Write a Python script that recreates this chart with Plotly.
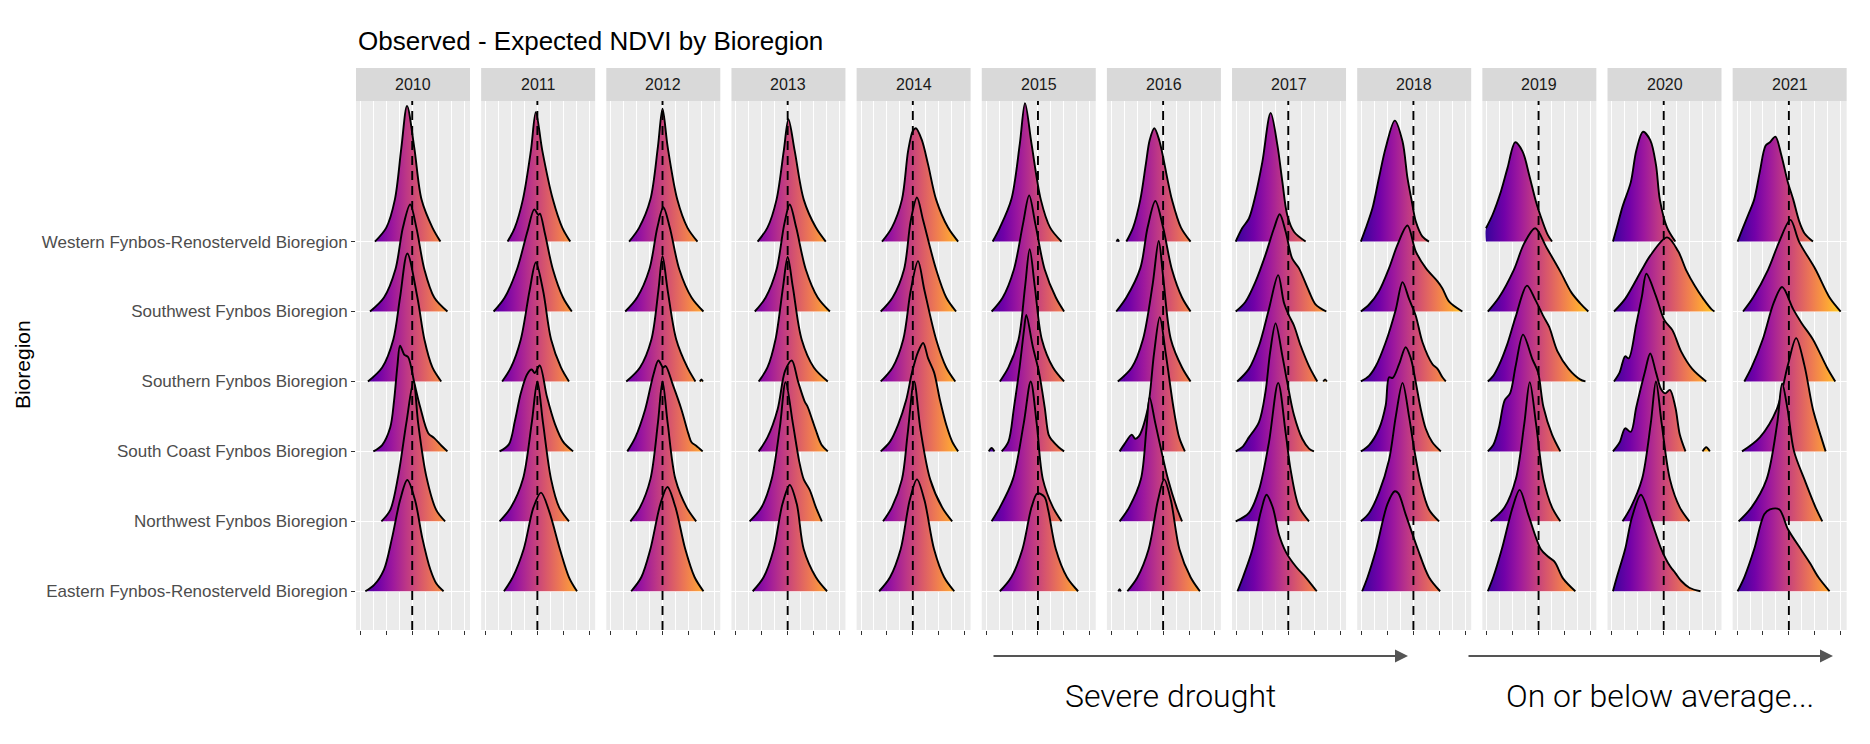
import plotly.graph_objects as go

# ridge profiles: (x = observed - expected NDVI, height in row units)
REGIONS = [
    "Western Fynbos-Renosterveld Bioregion",
    "Southwest Fynbos Bioregion",
    "Southern Fynbos Bioregion",
    "South Coast Fynbos Bioregion",
    "Northwest Fynbos Bioregion",
    "Eastern Fynbos-Renosterveld Bioregion",
]
YEARS = list(range(2010, 2022))
X_TICKS = [-0.2, -0.1, 0.0, 0.1, 0.2]
X_MINOR = [-0.15, -0.05, 0.05, 0.15]

R2010 = [
    [(-0.144, 0), (-0.10, 0.2), (-0.067, 0.6), (-0.042, 1.34), (-0.02, 1.94), (0.008, 1.34), (0.036, 0.6), (0.078, 0.2), (0.109, 0)],
    [(-0.163, 0), (-0.109, 0.2), (-0.065, 0.6), (-0.036, 1.2), (-0.008, 1.53), (0.016, 1.2), (0.047, 0.6), (0.085, 0.2), (0.136, 0)],
    [(-0.171, 0), (-0.116, 0.2), (-0.073, 0.6), (-0.047, 1.2), (-0.019, 1.83), (0.02, 1.2), (0.047, 0.6), (0.078, 0.2), (0.112, 0)],
    [(-0.150, 0), (-0.116, 0.09), (-0.085, 0.34), (-0.07, 0.73), (-0.057, 1.23), (-0.047, 1.51), (-0.03, 1.38), (-0.016, 1.35), (0.008, 0.98), (0.031, 0.63), (0.062, 0.26), (0.085, 0.19), (0.113, 0.08), (0.136, 0)],
    [(-0.119, 0), (-0.085, 0.16), (-0.054, 0.65), (-0.023, 1.4), (0.005, 2.0), (0.023, 1.4), (0.054, 0.65), (0.093, 0.16), (0.127, 0)],
    [(-0.181, 0), (-0.147, 0.09), (-0.109, 0.31), (-0.078, 0.76), (-0.047, 1.3), (-0.019, 1.59), (0.011, 1.3), (0.039, 0.76), (0.07, 0.31), (0.093, 0.11), (0.121, 0)],
]
R2011 = [
    [(-0.115, 0), (-0.087, 0.2), (-0.056, 0.6), (-0.025, 1.3), (-0.006, 1.85), (0.019, 1.3), (0.06, 0.6), (0.096, 0.2), (0.127, 0)],
    [(-0.169, 0), (-0.126, 0.2), (-0.079, 0.6), (-0.038, 1.15), (-0.012, 1.46), (0.004, 1.38), (0.01, 1.4), (0.03, 1.1), (0.06, 0.6), (0.099, 0.2), (0.133, 0)],
    [(-0.136, 0), (-0.102, 0.2), (-0.064, 0.6), (-0.03, 1.3), (-0.006, 1.70), (0.022, 1.3), (0.053, 0.6), (0.091, 0.2), (0.122, 0)],
    [(-0.146, 0), (-0.11, 0.1), (-0.087, 0.43), (-0.064, 0.83), (-0.04, 1.1), (-0.022, 1.17), (-0.01, 1.12), (0.009, 1.23), (0.037, 0.78), (0.068, 0.39), (0.099, 0.14), (0.138, 0)],
    [(-0.146, 0), (-0.102, 0.2), (-0.056, 0.6), (-0.022, 1.4), (0.0, 2.0), (0.022, 1.4), (0.053, 0.6), (0.084, 0.2), (0.122, 0)],
    [(-0.129, 0), (-0.095, 0.2), (-0.053, 0.6), (-0.015, 1.2), (0.014, 1.41), (0.045, 1.15), (0.087, 0.6), (0.122, 0.2), (0.153, 0)],
]
R2012 = [
    [(-0.129, 0), (-0.09, 0.2), (-0.047, 0.6), (-0.018, 1.35), (0.0, 1.90), (0.02, 1.35), (0.057, 0.6), (0.096, 0.2), (0.135, 0)],
    [(-0.144, 0), (-0.098, 0.2), (-0.051, 0.6), (-0.02, 1.2), (0.003, 1.49), (0.028, 1.2), (0.065, 0.6), (0.112, 0.2), (0.158, 0)],
    [(-0.14, 0), (-0.087, 0.2), (-0.043, 0.6), (-0.016, 1.3), (0.0, 1.79), (0.02, 1.3), (0.053, 0.6), (0.096, 0.2), (0.127, 0)],
    [(-0.136, 0), (-0.105, 0.2), (-0.067, 0.6), (-0.035, 1.1), (-0.016, 1.30), (0.002, 1.2), (0.012, 1.22), (0.04, 0.95), (0.073, 0.6), (0.1, 0.25), (0.112, 0.13), (0.13, 0.08), (0.155, 0)],
    [(-0.124, 0), (-0.087, 0.2), (-0.047, 0.6), (-0.018, 1.4), (0.0, 2.0), (0.02, 1.4), (0.05, 0.6), (0.093, 0.2), (0.13, 0)],
    [(-0.121, 0), (-0.082, 0.2), (-0.047, 0.6), (-0.008, 1.25), (0.019, 1.49), (0.05, 1.2), (0.088, 0.6), (0.124, 0.2), (0.158, 0)],
]
R2013 = [
    [(-0.116, 0), (-0.078, 0.2), (-0.043, 0.6), (-0.015, 1.3), (0.003, 1.75), (0.027, 1.3), (0.062, 0.6), (0.109, 0.2), (0.147, 0)],
    [(-0.127, 0), (-0.085, 0.2), (-0.043, 0.6), (-0.013, 1.25), (0.008, 1.53), (0.033, 1.2), (0.07, 0.6), (0.116, 0.2), (0.163, 0)],
    [(-0.112, 0), (-0.078, 0.2), (-0.047, 0.6), (-0.018, 1.35), (0.0, 1.78), (0.02, 1.35), (0.054, 0.6), (0.101, 0.2), (0.155, 0)],
    [(-0.112, 0), (-0.078, 0.2), (-0.039, 0.6), (-0.01, 1.15), (0.016, 1.30), (0.04, 1.0), (0.065, 0.72), (0.078, 0.63), (0.095, 0.45), (0.109, 0.3), (0.13, 0.1), (0.155, 0)],
    [(-0.147, 0), (-0.101, 0.2), (-0.062, 0.6), (-0.03, 1.35), (-0.008, 1.99), (0.02, 1.4), (0.045, 0.85), (0.062, 0.6), (0.085, 0.45), (0.109, 0.2), (0.132, 0)],
    [(-0.135, 0), (-0.093, 0.2), (-0.054, 0.6), (-0.02, 1.25), (0.008, 1.52), (0.035, 1.25), (0.062, 0.6), (0.109, 0.2), (0.152, 0)],
]
R2014 = [
    [(-0.119, 0), (-0.081, 0.2), (-0.042, 0.6), (-0.018, 1.3), (0.0, 1.58), (0.012, 1.62), (0.035, 1.45), (0.059, 1.1), (0.09, 0.6), (0.136, 0.2), (0.175, 0)],
    [(-0.124, 0), (-0.078, 0.2), (-0.034, 0.6), (-0.008, 1.3), (0.016, 1.63), (0.04, 1.3), (0.09, 0.6), (0.129, 0.2), (0.167, 0)],
    [(-0.124, 0), (-0.078, 0.2), (-0.037, 0.6), (-0.008, 1.3), (0.02, 1.72), (0.045, 1.3), (0.09, 0.6), (0.129, 0.2), (0.164, 0)],
    [(-0.124, 0), (-0.088, 0.14), (-0.057, 0.38), (-0.026, 0.73), (-0.003, 1.13), (0.02, 1.42), (0.04, 1.55), (0.059, 1.33), (0.082, 1.13), (0.105, 0.73), (0.129, 0.38), (0.152, 0.14), (0.175, 0)],
    [(-0.115, 0), (-0.081, 0.2), (-0.042, 0.6), (-0.02, 1.25), (0.005, 2.0), (0.03, 1.3), (0.067, 0.6), (0.113, 0.2), (0.152, 0)],
    [(-0.13, 0), (-0.088, 0.2), (-0.047, 0.6), (-0.012, 1.3), (0.016, 1.60), (0.045, 1.3), (0.082, 0.6), (0.121, 0.2), (0.16, 0)],
]
R2015 = [
    [(-0.175, 0), (-0.147, 0.2), (-0.103, 0.6), (-0.07, 1.4), (-0.05, 1.98), (-0.025, 1.4), (0.011, 0.6), (0.047, 0.2), (0.091, 0)],
    [(-0.179, 0), (-0.136, 0.2), (-0.093, 0.6), (-0.058, 1.25), (-0.034, 1.66), (-0.01, 1.25), (0.026, 0.6), (0.069, 0.2), (0.101, 0)],
    [(-0.147, 0), (-0.114, 0.2), (-0.075, 0.6), (-0.05, 1.35), (-0.032, 1.89), (-0.012, 1.35), (0.015, 0.6), (0.058, 0.2), (0.101, 0)],
    [(-0.14, 0), (-0.114, 0.14), (-0.093, 0.62), (-0.071, 1.2), (-0.054, 1.73), (-0.045, 1.95), (-0.02, 1.5), (0.004, 1.13), (0.026, 0.63), (0.041, 0.24), (0.054, 0.16), (0.08, 0.06), (0.101, 0)],
    [(-0.179, 0), (-0.147, 0.2), (-0.097, 0.6), (-0.055, 1.4), (-0.028, 2.0), (-0.005, 1.4), (0.019, 0.6), (0.058, 0.2), (0.091, 0)],
    [(-0.147, 0), (-0.103, 0.2), (-0.06, 0.6), (-0.025, 1.2), (-0.002, 1.40), (0.025, 1.35), (0.04, 1.15), (0.069, 0.6), (0.112, 0.2), (0.155, 0)],
]
R2016 = [
    [(-0.142, 0), (-0.116, 0.2), (-0.088, 0.6), (-0.067, 1.1), (-0.052, 1.45), (-0.034, 1.62), (-0.015, 1.45), (0.019, 0.85), (0.034, 0.6), (0.069, 0.2), (0.106, 0)],
    [(-0.181, 0), (-0.142, 0.2), (-0.088, 0.62), (-0.06, 1.2), (-0.03, 1.58), (0.0, 1.2), (0.034, 0.6), (0.073, 0.2), (0.106, 0)],
    [(-0.175, 0), (-0.121, 0.2), (-0.078, 0.6), (-0.04, 1.4), (-0.017, 2.01), (0.0, 1.5), (0.03, 0.6), (0.073, 0.2), (0.106, 0)],
    [(-0.168, 0), (-0.15, 0.1), (-0.121, 0.24), (-0.108, 0.18), (-0.095, 0.21), (-0.06, 0.6), (-0.035, 1.4), (-0.013, 1.92), (0.01, 1.4), (0.041, 0.6), (0.062, 0.2), (0.084, 0)],
    [(-0.168, 0), (-0.131, 0.2), (-0.086, 0.6), (-0.065, 1.3), (-0.052, 1.77), (-0.03, 1.4), (0.019, 0.6), (0.052, 0.2), (0.073, 0)],
    [(-0.138, 0), (-0.099, 0.2), (-0.056, 0.6), (-0.02, 1.3), (0.004, 1.60), (0.03, 1.3), (0.063, 0.6), (0.106, 0.2), (0.142, 0)],
]
R2017 = [
    [(-0.203, 0), (-0.178, 0.19), (-0.152, 0.33), (-0.126, 0.67), (-0.1, 1.14), (-0.068, 1.84), (-0.042, 1.38), (-0.023, 0.86), (-0.004, 0.38), (0.022, 0.14), (0.067, 0)],
    [(-0.203, 0), (-0.165, 0.14), (-0.126, 0.43), (-0.088, 0.81), (-0.055, 1.19), (-0.033, 1.39), (-0.01, 1.14), (0.015, 0.76), (0.041, 0.62), (0.08, 0.29), (0.106, 0.1), (0.147, 0)],
    [(-0.197, 0), (-0.152, 0.18), (-0.113, 0.51), (-0.075, 1.03), (-0.039, 1.52), (-0.017, 1.13), (0.003, 0.94), (0.022, 0.8), (0.048, 0.51), (0.08, 0.22), (0.112, 0)],
    [(-0.203, 0), (-0.178, 0.06), (-0.152, 0.2), (-0.113, 0.42), (-0.088, 0.85), (-0.07, 1.42), (-0.049, 1.83), (-0.023, 1.37), (-0.004, 0.99), (0.022, 0.52), (0.054, 0.18), (0.08, 0.04), (0.099, 0)],
    [(-0.203, 0), (-0.152, 0.12), (-0.113, 0.45), (-0.075, 1.12), (-0.039, 1.98), (-0.01, 1.26), (0.009, 0.74), (0.041, 0.21), (0.08, 0)],
    [(-0.196, 0), (-0.175, 0.2), (-0.138, 0.6), (-0.105, 1.15), (-0.084, 1.38), (-0.06, 1.2), (-0.035, 0.8), (-0.009, 0.56), (0.03, 0.35), (0.067, 0.2), (0.11, 0)],
]
R2018 = [
    [(-0.203, 0), (-0.184, 0.19), (-0.158, 0.48), (-0.133, 0.91), (-0.107, 1.34), (-0.072, 1.73), (-0.042, 1.43), (-0.023, 0.91), (-0.006, 0.57), (0.009, 0.29), (0.035, 0.07), (0.06, 0)],
    [(-0.203, 0), (-0.171, 0.1), (-0.133, 0.29), (-0.094, 0.62), (-0.062, 0.95), (-0.023, 1.23), (0.009, 0.86), (0.048, 0.62), (0.093, 0.43), (0.112, 0.33), (0.138, 0.14), (0.189, 0)],
    [(-0.203, 0), (-0.171, 0.08), (-0.145, 0.22), (-0.107, 0.56), (-0.068, 1.03), (-0.042, 1.42), (-0.017, 1.18), (0.009, 0.94), (0.035, 0.56), (0.073, 0.25), (0.093, 0.18), (0.112, 0.06), (0.125, 0)],
    [(-0.203, 0), (-0.171, 0.09), (-0.133, 0.32), (-0.107, 0.66), (-0.094, 1.06), (-0.08, 1.05), (-0.055, 1.25), (-0.03, 1.49), (-0.01, 1.33), (0.009, 0.99), (0.028, 0.61), (0.048, 0.32), (0.073, 0.13), (0.106, 0)],
    [(-0.203, 0), (-0.171, 0.12), (-0.133, 0.41), (-0.094, 0.88), (-0.068, 1.5), (-0.042, 1.98), (-0.017, 1.5), (0.003, 1.03), (0.028, 0.55), (0.06, 0.17), (0.099, 0)],
    [(-0.198, 0), (-0.177, 0.2), (-0.144, 0.6), (-0.1, 1.25), (-0.072, 1.43), (-0.058, 1.4), (-0.03, 1.1), (0.017, 0.6), (0.06, 0.2), (0.103, 0)],
]
R2019 = [
    [(-0.203, 0.19), (-0.178, 0.38), (-0.145, 0.72), (-0.12, 1.05), (-0.09, 1.42), (-0.062, 1.29), (-0.036, 0.95), (-0.01, 0.57), (0.015, 0.29), (0.035, 0.1), (0.052, 0)],
    [(-0.196, 0), (-0.153, 0.2), (-0.095, 0.6), (-0.056, 0.97), (-0.013, 1.19), (0.03, 0.92), (0.084, 0.57), (0.127, 0.27), (0.16, 0.12), (0.192, 0)],
    [(-0.196, 0), (-0.175, 0.08), (-0.153, 0.23), (-0.121, 0.53), (-0.088, 0.93), (-0.045, 1.37), (-0.013, 1.17), (0.019, 0.93), (0.041, 0.78), (0.073, 0.43), (0.116, 0.18), (0.16, 0.03), (0.181, 0)],
    [(-0.196, 0), (-0.175, 0.09), (-0.153, 0.34), (-0.131, 0.73), (-0.11, 0.83), (-0.088, 1.23), (-0.06, 1.67), (-0.024, 1.32), (-0.002, 1.13), (0.019, 0.63), (0.052, 0.24), (0.084, 0)],
    [(-0.185, 0), (-0.131, 0.2), (-0.088, 0.6), (-0.055, 1.4), (-0.034, 1.99), (-0.01, 1.4), (0.019, 0.6), (0.052, 0.2), (0.084, 0)],
    [(-0.196, 0), (-0.175, 0.2), (-0.142, 0.6), (-0.1, 1.2), (-0.073, 1.45), (-0.04, 1.1), (0.009, 0.6), (0.035, 0.5), (0.062, 0.42), (0.095, 0.18), (0.142, 0)],
]
R2020 = [
    [(-0.196, 0), (-0.181, 0.2), (-0.159, 0.5), (-0.127, 0.85), (-0.106, 1.3), (-0.08, 1.57), (-0.052, 1.45), (-0.03, 1.1), (-0.015, 0.6), (0.013, 0.2), (0.045, 0)],
    [(-0.192, 0), (-0.149, 0.18), (-0.084, 0.6), (-0.052, 0.8), (0.013, 1.06), (0.056, 0.86), (0.088, 0.58), (0.121, 0.36), (0.153, 0.18), (0.185, 0.03), (0.196, 0)],
    [(-0.192, 0), (-0.17, 0.13), (-0.149, 0.36), (-0.135, 0.33), (-0.106, 0.82), (-0.084, 1.22), (-0.067, 1.54), (-0.03, 1.22), (0.002, 0.88), (0.034, 0.73), (0.067, 0.43), (0.11, 0.18), (0.164, 0)],
    [(-0.196, 0), (-0.17, 0.13), (-0.149, 0.33), (-0.127, 0.28), (-0.106, 0.63), (-0.073, 1.13), (-0.052, 1.40), (-0.03, 1.13), (-0.009, 0.88), (0.006, 0.83), (0.024, 0.88), (0.045, 0.63), (0.062, 0.24), (0.084, 0)],
    [(-0.159, 0), (-0.127, 0.2), (-0.084, 0.6), (-0.05, 1.4), (-0.03, 2.0), (-0.008, 1.4), (0.024, 0.6), (0.062, 0.2), (0.099, 0)],
    [(-0.196, 0), (-0.181, 0.2), (-0.149, 0.6), (-0.123, 1.05), (-0.088, 1.38), (-0.052, 1.05), (-0.009, 0.6), (0.024, 0.36), (0.045, 0.26), (0.067, 0.15), (0.099, 0.05), (0.142, 0)],
]
R2021 = [
    [(-0.198, 0), (-0.177, 0.2), (-0.155, 0.4), (-0.134, 0.6), (-0.112, 1.0), (-0.09, 1.37), (-0.073, 1.42), (-0.052, 1.5), (-0.03, 1.25), (-0.004, 0.85), (0.017, 0.6), (0.039, 0.3), (0.06, 0.12), (0.093, 0)],
    [(-0.177, 0), (-0.138, 0.2), (-0.08, 0.6), (-0.037, 1.0), (0.006, 1.31), (0.039, 1.0), (0.103, 0.6), (0.157, 0.2), (0.2, 0)],
    [(-0.172, 0), (-0.144, 0.2), (-0.101, 0.6), (-0.058, 1.13), (-0.026, 1.35), (0.017, 1.03), (0.05, 0.83), (0.093, 0.6), (0.147, 0.2), (0.179, 0)],
    [(-0.181, 0), (-0.112, 0.2), (-0.047, 0.6), (-0.004, 1.23), (0.028, 1.62), (0.06, 1.23), (0.093, 0.6), (0.125, 0.2), (0.142, 0)],
    [(-0.194, 0), (-0.144, 0.2), (-0.086, 0.6), (-0.045, 1.4), (-0.026, 1.97), (-0.005, 1.6), (0.02, 1.0), (0.06, 0.6), (0.103, 0.2), (0.129, 0)],
    [(-0.198, 0), (-0.172, 0.2), (-0.134, 0.6), (-0.095, 1.1), (-0.073, 1.17), (-0.037, 1.17), (-0.004, 0.89), (0.05, 0.58), (0.082, 0.4), (0.114, 0.2), (0.157, 0)],
]

# small detached bits of density (year, region index, points)
BLOBS = [
    (2012, 2, [(0.144, 0), (0.15, 0.03), (0.156, 0)]),
    (2015, 3, [(-0.19, 0), (-0.179, 0.05), (-0.168, 0)]),
    (2016, 0, [(-0.18, 0), (-0.175, 0.03), (-0.17, 0)]),
    (2016, 5, [(-0.173, 0), (-0.168, 0.03), (-0.163, 0)]),
    (2017, 2, [(0.135, 0), (0.142, 0.03), (0.149, 0)]),
    (2020, 3, [(0.15, 0), (0.164, 0.06), (0.178, 0)]),
]

RIDGES = {
    2010: R2010, 2011: R2011, 2012: R2012, 2013: R2013, 2014: R2014, 2015: R2015,
    2016: R2016, 2017: R2017, 2018: R2018, 2019: R2019, 2020: R2020, 2021: R2021,
}

# layout in pixels (figure is 1854x728 inside the page margin)
W, H = 1854, 728
PANEL_L0, PANEL_W, PANEL_STEP = 348, 114, 125.15
PANEL_TOP, PANEL_BOT = 93, 622
STRIP_TOP = 60
X_RANGE = [-0.217, 0.223]
Y_RANGE = [0.446, 8.01]
FONT = "Liberation Sans, Arial, sans-serif"


def add_ridge(fig, pts, base, ax_id):
    xs = [p[0] for p in pts]
    ys = [base + p[1] for p in pts]
    fx, fy = list(xs), list(ys)
    if pts[0][1] > 0:
        fx.insert(0, xs[0])
        fy.insert(0, base)
    if pts[-1][1] > 0:
        fx.append(xs[-1])
        fy.append(base)
    fig.add_trace(go.Scatter(
        x=fx, y=fy, xaxis="x" + ax_id, yaxis="y" + ax_id,
        mode="lines", fill="toself",
        line=dict(width=0, shape="spline", smoothing=0.9),
        fillgradient=dict(type="horizontal", colorscale="Plasma", start=-0.24, stop=0.25),
        hoverinfo="skip", showlegend=False,
    ))
    fig.add_trace(go.Scatter(
        x=xs, y=ys, xaxis="x" + ax_id, yaxis="y" + ax_id,
        mode="lines", line=dict(color="black", width=1.9, shape="spline", smoothing=0.9),
        hoverinfo="skip", showlegend=False,
    ))


fig = go.Figure()
layout = {}
shapes = []
annotations = []

for k, year in enumerate(YEARS):
    ax_id = "" if k == 0 else str(k + 1)
    left = PANEL_L0 + k * PANEL_STEP
    right = left + PANEL_W

    for ri, pts in enumerate(RIDGES[year]):
        add_ridge(fig, pts, 6 - ri, ax_id)
    for by, bri, bpts in BLOBS:
        if by == year:
            add_ridge(fig, bpts, 6 - bri, ax_id)

    fig.add_trace(go.Scatter(
        x=[0, 0], y=Y_RANGE, xaxis="x" + ax_id, yaxis="y" + ax_id,
        mode="lines", line=dict(color="black", width=1.9, dash="9px,6px"),
        hoverinfo="skip", showlegend=False,
    ))

    layout["xaxis" + ax_id] = dict(
        domain=[left / W, right / W], range=X_RANGE, anchor="y" + ax_id,
        tickvals=X_TICKS, showticklabels=False, ticks="outside", ticklen=4,
        tickcolor="#333333", tickwidth=1, showgrid=True, gridcolor="white", gridwidth=1.3,
        minor=dict(tickvals=X_MINOR, showgrid=True, gridcolor="white", gridwidth=0.6, ticks=""),
        zeroline=False, showline=False, fixedrange=True,
    )
    yax = dict(
        domain=[1 - PANEL_BOT / H, 1 - PANEL_TOP / H], range=Y_RANGE, anchor="x" + ax_id,
        tickvals=[6, 5, 4, 3, 2, 1], showgrid=True, gridcolor="white", gridwidth=1.3,
        zeroline=False, showline=False, fixedrange=True,
    )
    if k == 0:
        yax.update(ticktext=REGIONS, ticks="outside", ticklen=4, tickcolor="#333333",
                   tickfont=dict(family=FONT, size=17, color="#4d4d4d"))
    else:
        yax.update(showticklabels=False, ticks="")
    layout["yaxis" + ax_id] = yax

    shapes.append(dict(type="rect", xref="paper", yref="paper",
                       x0=left / W, x1=right / W, y0=1 - PANEL_TOP / H, y1=1 - STRIP_TOP / H,
                       fillcolor="#d9d9d9", line=dict(width=0)))
    annotations.append(dict(text=str(year), xref="paper", yref="paper",
                            x=(left + right) / 2 / W, y=1 - (PANEL_TOP + STRIP_TOP) / 2 / H,
                            xanchor="center", yanchor="middle", showarrow=False,
                            font=dict(family=FONT, size=16, color="#1a1a1a")))

annotations.append(dict(text="Observed - Expected NDVI by Bioregion", xref="paper", yref="paper",
                        x=PANEL_L0 / W, y=1 - 33 / H, xanchor="left", yanchor="middle",
                        showarrow=False, font=dict(family=FONT, size=26, color="black")))
annotations.append(dict(text="Bioregion", xref="paper", yref="paper", x=14 / W, y=1 - 357 / H,
                        xanchor="center", yanchor="middle", textangle=-90, showarrow=False,
                        font=dict(family=FONT, size=21, color="black")))

# drought arrows and notes
for x0, x1 in [(984, 1400), (1459, 1825)]:
    annotations.append(dict(text="", xref="paper", yref="paper", x=x1 / W, y=1 - 648 / H,
                            ax=x0 - x1, ay=0, axref="pixel", ayref="pixel", showarrow=True,
                            arrowhead=2, arrowsize=1.3, arrowwidth=2, arrowcolor="#555555"))
for txt, cx in [("Severe drought", 1162), ("On or below average...", 1652)]:
    annotations.append(dict(text=txt, xref="paper", yref="paper", x=cx / W, y=1 - 688 / H,
                            xanchor="center", yanchor="middle", showarrow=False,
                            font=dict(family="Roboto", size=32, color="black", weight=300)))

fig.update_layout(
    width=W, height=H, margin=dict(l=0, r=0, t=0, b=0),
    paper_bgcolor="white", plot_bgcolor="#ebebeb",
    shapes=shapes, annotations=annotations, showlegend=False,
    **layout,
)

fig.write_html("out.html")
